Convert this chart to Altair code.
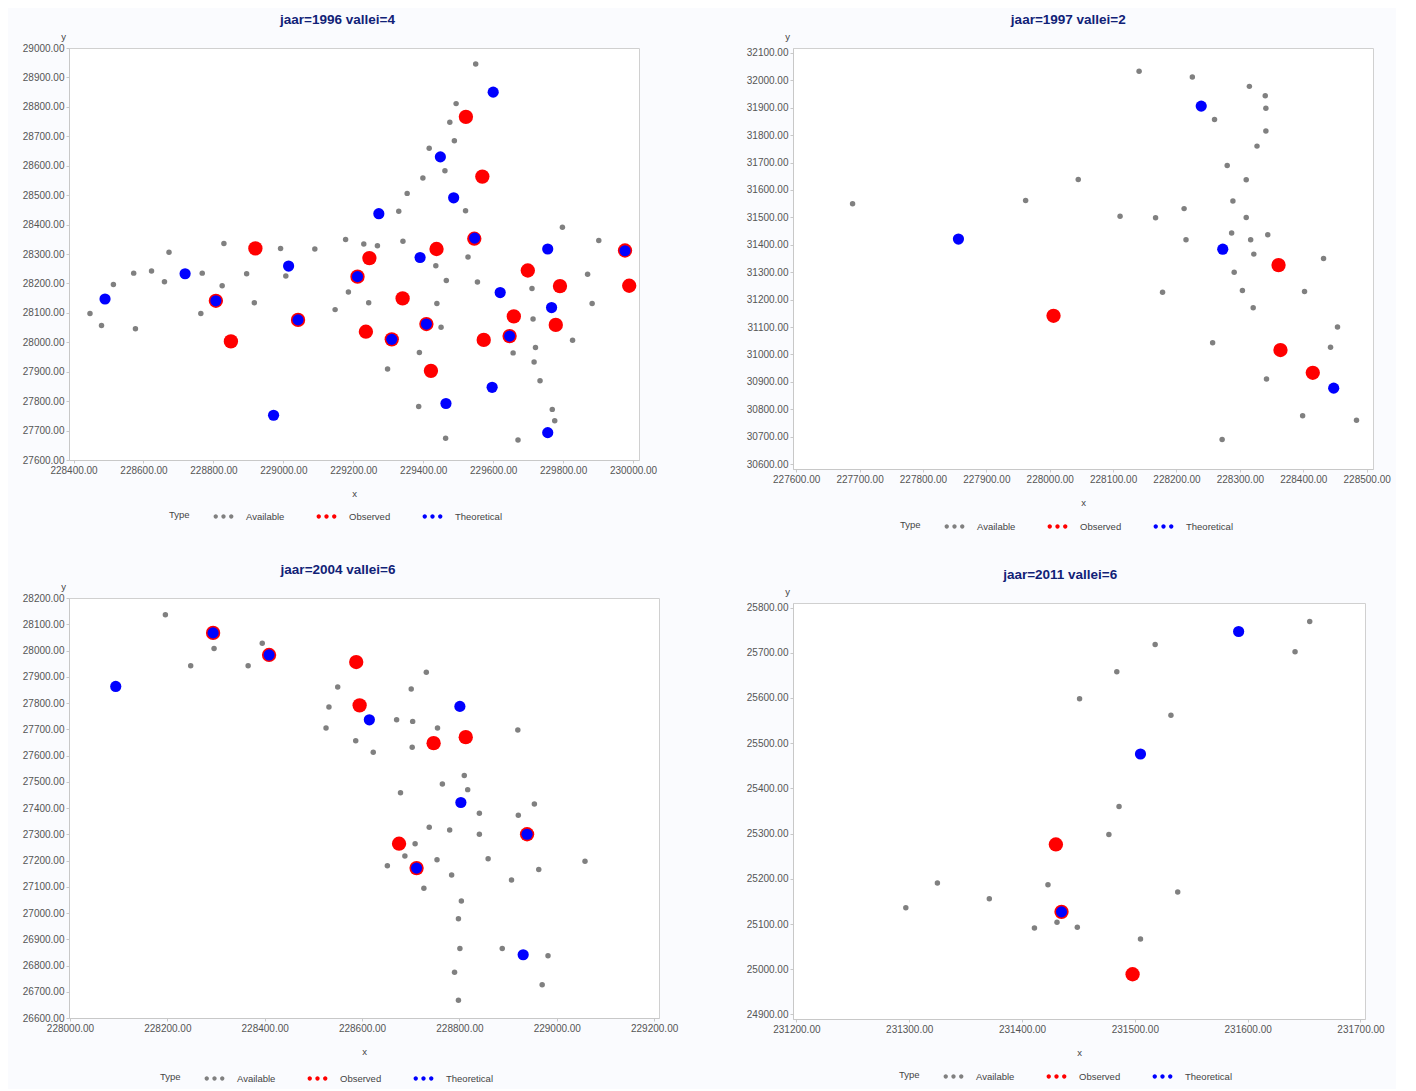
import altair as alt
import pandas as pd

TYPES = ["Available", "Observed", "Theoretical"]
COLORS = ["#808080", "#ff0000", "#0000ff"]
SIZES = [30, 205, 125]

# ---------------- Panel 1: jaar=1996 vallei=4 ----------------
p1_title = "jaar=1996 vallei=4"
p1_avail_x = [229550, 229494, 229476, 229489, 229417, 229462, 229399, 229354, 229330, 229521,
              229798, 229902, 229178, 229230, 229269, 229342, 228830, 228992, 229090, 228673,
              229528, 229436, 228572, 228623, 228768, 228895, 229007, 228660, 228825, 229870,
              229466, 229555, 229711, 229186, 228917, 229244, 229439, 229883, 228764, 229148,
              229714, 228577, 229451, 229827, 229721, 229657, 229389, 229717, 229298, 229734,
              229387, 229769, 229776, 229464, 229671, 228514, 228447, 228480]
p1_avail_y = [28946, 28811, 28748, 28685, 28659, 28583, 28558, 28506, 28445, 28447,
              28391, 28346, 28349, 28334, 28328, 28343, 28336, 28319, 28317, 28306,
              28290, 28260, 28235, 28242, 28235, 28233, 28225, 28206, 28192, 28231,
              28210, 28205, 28183, 28171, 28134, 28134, 28132, 28132, 28098, 28111,
              28079, 28046, 28051, 28007, 27982, 27964, 27965, 27933, 27909, 27869,
              27782, 27772, 27733, 27674, 27668, 28196, 28098, 28057]
p1_obs_x = [229522, 229569, 229546, 228920, 229438, 229246, 229977, 229699, 229212, 229791,
            229989, 228807, 229341, 229659, 229042, 229779, 229236, 229409, 229310, 229573,
            229647, 228850, 229422]
p1_obs_y = [28766, 28563, 28352, 28319, 28317, 28286, 28312, 28244, 28223, 28191,
            28192, 28141, 28149, 28088, 28076, 28059, 28036, 28062, 28010, 28008,
            28021, 28003, 27903]
p1_theo_x = [229600, 229449, 229487, 229273, 229547, 229391, 229756, 229977, 229015, 228719,
             229212, 229620, 228807, 229767, 229042, 229409, 229310, 229647, 229597, 229465,
             228972, 229756, 228490]
p1_theo_y = [28850, 28630, 28491, 28437, 28354, 28288, 28317, 28311, 28259, 28233,
             28223, 28169, 28141, 28118, 28076, 28062, 28010, 28021, 27847, 27792,
             27752, 27693, 28147]
p1_xticks = [228400, 228600, 228800, 229000, 229200, 229400, 229600, 229800, 230000]
p1_yticks = [27600, 27700, 27800, 27900, 28000, 28100, 28200, 28300, 28400, 28500,
             28600, 28700, 28800, 28900, 29000]

# ---------------- Panel 2: jaar=1997 vallei=2 ----------------
p2_title = "jaar=1997 vallei=2"
p2_avail_x = [228141, 228225, 228315, 228340, 228341, 228260, 228341, 228327, 228280, 228310,
              228045, 227689, 227962, 228289, 228212, 228111, 228167, 228310, 228287, 228317,
              228344, 228215, 228322, 228432, 228291, 228304, 228178, 228402, 228321, 228454,
              228257, 228443, 228342, 228399, 228484, 228272]
p2_avail_y = [32033, 32012, 31978, 31944, 31898, 31857, 31815, 31760, 31689, 31637,
              31638, 31550, 31562, 31560, 31532, 31504, 31499, 31500, 31443, 31418,
              31437, 31418, 31366, 31350, 31300, 31233, 31227, 31230, 31170, 31100,
              31043, 31026, 30910, 30776, 30760, 30690]
p2_obs_x = [228006, 228361, 228364, 228415]
p2_obs_y = [31141, 31326, 31016, 30933]
p2_theo_x = [228239, 227856, 228273, 228448]
p2_theo_y = [31906, 31421, 31384, 30877]
p2_xticks = [227600, 227700, 227800, 227900, 228000, 228100, 228200, 228300, 228400, 228500]
p2_yticks = [30600, 30700, 30800, 30900, 31000, 31100, 31200, 31300, 31400, 31500,
             31600, 31700, 31800, 31900, 32000, 32100]

# ---------------- Panel 3: jaar=2004 vallei=6 ----------------
p3_title = "jaar=2004 vallei=6"
p3_avail_x = [228196, 228296, 228395, 228248, 228366, 228732, 228550, 228701, 228532, 228671,
              228704, 228526, 228755, 228920, 228587, 228703, 228623, 228810, 228765, 228817,
              228679, 228954, 228841, 228921, 228738, 228780, 228841, 228709, 228688, 228652,
              228754, 228859, 229058, 228963, 228784, 228907, 228727, 228804, 228798, 228801,
              228888, 228982, 228790, 228970, 228798]
p3_avail_y = [28136, 28008, 28028, 27942, 27942, 27917, 27861, 27853, 27785, 27736,
              27730, 27705, 27705, 27697, 27656, 27631, 27612, 27524, 27491, 27470,
              27458, 27415, 27380, 27372, 27327, 27316, 27300, 27264, 27217, 27180,
              27203, 27207, 27197, 27166, 27145, 27126, 27094, 27046, 26978, 26865,
              26865, 26837, 26774, 26727, 26668]
p3_obs_x = [228294, 228409, 228588, 228595, 228747, 228813, 228939, 228676, 228712]
p3_obs_y = [28067, 27983, 27956, 27791, 27647, 27670, 27300, 27264, 27171]
p3_theo_x = [228094, 228294, 228409, 228615, 228801, 228803, 228939, 228712, 228931]
p3_theo_y = [27863, 28067, 27983, 27736, 27787, 27421, 27300, 27171, 26841]
p3_xticks = [228000, 228200, 228400, 228600, 228800, 229000, 229200]
p3_yticks = [26600, 26700, 26800, 26900, 27000, 27100, 27200, 27300, 27400, 27500,
             27600, 27700, 27800, 27900, 28000, 28100, 28200]

# ---------------- Panel 4: jaar=2011 vallei=6 ----------------
p4_title = "jaar=2011 vallei=6"
p4_avail_x = [231655, 231642, 231518, 231484, 231451, 231532, 231486, 231477, 231325, 231538,
              231297, 231371, 231423, 231411, 231431, 231449, 231505]
p4_avail_y = [25769, 25702, 25718, 25658, 25598, 25562, 25360, 25298, 25191, 25171,
              25136, 25156, 25187, 25091, 25104, 25093, 25067]
p4_obs_x = [231430, 231435, 231498]
p4_obs_y = [25276, 25127, 24989]
p4_theo_x = [231592, 231505, 231435]
p4_theo_y = [25747, 25476, 25127]
p4_xticks = [231200, 231300, 231400, 231500, 231600, 231700]
p4_yticks = [24900, 25000, 25100, 25200, 25300, 25400, 25500, 25600, 25700, 25800]

# legend symbol: three small dots, like the SAS legend
DOTS = ("M-1.28,0A0.28,0.28 0 1,0 -0.72,0A0.28,0.28 0 1,0 -1.28,0Z "
        "M-0.28,0A0.28,0.28 0 1,0 0.28,0A0.28,0.28 0 1,0 -0.28,0Z "
        "M0.72,0A0.28,0.28 0 1,0 1.28,0A0.28,0.28 0 1,0 0.72,0Z")


def make_df(ax, ay, ox, oy, tx, ty):
    rows = []
    for t, xs, ys in (("Available", ax, ay), ("Observed", ox, oy), ("Theoretical", tx, ty)):
        for a, b in zip(xs, ys):
            rows.append({"x": a, "y": b, "Type": t})
    return pd.DataFrame(rows)


def panel(df, title, xdom, ydom, xticks, yticks, w, h, lx, ly, tdx):
    base = alt.Chart(df).encode(
        x=alt.X("x:Q", scale=alt.Scale(domain=xdom, nice=False, zero=False),
                axis=alt.Axis(values=xticks, format=".2f", title="x", titlePadding=13,
                              labelFlush=False)),
        y=alt.Y("y:Q", scale=alt.Scale(domain=ydom, nice=False, zero=False),
                axis=alt.Axis(values=yticks, format=".2f", title="y", titleAngle=0,
                              titleX=-6, titleY=-7, titleAlign="center", titleBaseline="bottom",
                              labelFlush=False)),
        color=alt.Color("Type:N", scale=alt.Scale(domain=TYPES, range=COLORS),
                        legend=alt.Legend(title="Type", orient="none", legendX=lx, legendY=ly,
                                          direction="horizontal",
                                          titleOrient="left", symbolType=DOTS, symbolSize=240,
                                          labelOffset=14, columnPadding=31, titlePadding=25,
                                          labelFontSize=9.5, titleFontSize=9.5,
                                          titleFontWeight="normal",
                                          labelColor="#444444", titleColor="#444444")),
    )
    layers = [base.transform_filter(alt.datum.Type == t).mark_circle(size=s, opacity=1)
              for t, s in zip(TYPES, SIZES)]
    return alt.layer(*layers).properties(
        width=w, height=h,
        title=alt.Title(title, fontSize=13.5, fontWeight="bold", color="#112277",
                        offset=5, frame="bounds", anchor="middle", dx=tdx))


c1 = panel(make_df(p1_avail_x, p1_avail_y, p1_obs_x, p1_obs_y, p1_theo_x, p1_theo_y),
           p1_title, [228387, 230017], [27600, 29000], p1_xticks, p1_yticks, 570, 412, 100, 460, -2)
c2 = panel(make_df(p2_avail_x, p2_avail_y, p2_obs_x, p2_obs_y, p2_theo_x, p2_theo_y),
           p2_title, [227595, 228510], [30582, 32118], p2_xticks, p2_yticks, 580, 421, 107, 470, 0)
c3 = panel(make_df(p3_avail_x, p3_avail_y, p3_obs_x, p3_obs_y, p3_theo_x, p3_theo_y),
           p3_title, [227998, 229210], [26600, 28200], p3_xticks, p3_yticks, 590, 420, 91, 472, -12)
c4 = panel(make_df(p4_avail_x, p4_avail_y, p4_obs_x, p4_obs_y, p4_theo_x, p4_theo_y),
           p4_title, [231197, 231704], [24890, 25810], p4_xticks, p4_yticks, 572, 416, 106, 465, -5)

RES = dict(color="independent", x="independent", y="independent")
col1 = alt.vconcat(c1, c3, spacing=40).resolve_scale(**RES)
col2 = alt.vconcat(c2, c4, spacing=35).resolve_scale(**RES)
chart = alt.hconcat(col1, col2, spacing=66).resolve_scale(**RES).configure(
    font="Liberation Sans",
    background="#fafbfe",
    padding={"left": 13, "top": 4, "right": 5, "bottom": 5},
).configure_view(
    stroke="#d0d0d0", strokeWidth=1, fill="white"
).configure_axis(
    grid=False, labelFontSize=10, labelColor="#555555", titleFontSize=9.5,
    titleFontWeight="normal", titleColor="#444444", domainColor="#c8c8c8",
    tickColor="#c8c8c8", tickSize=3, labelPadding=2,
)

chart.save("out.html", embed_options={"renderer": "svg", "actions": False})
